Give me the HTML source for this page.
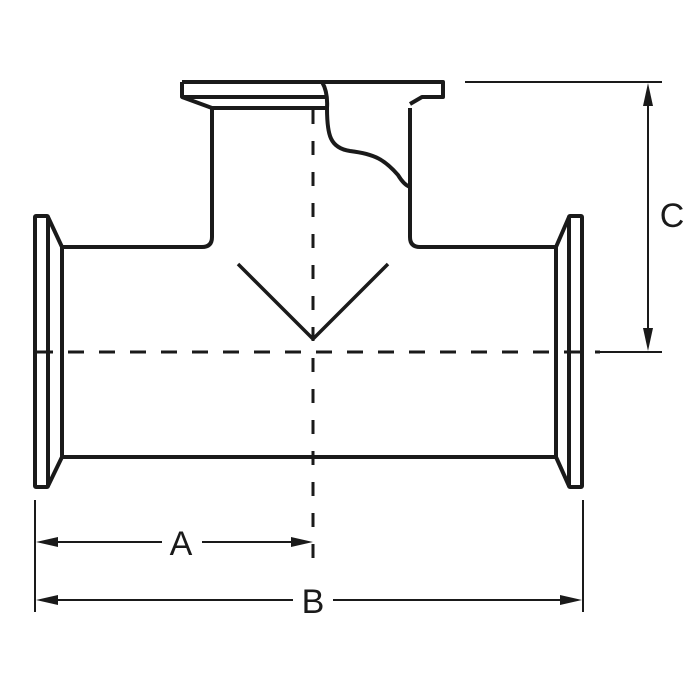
<!DOCTYPE html>
<html><head><style>body{margin:0;background:#fff}svg{display:block}</style></head><body>
<svg width="700" height="700" viewBox="0 0 700 700" xmlns="http://www.w3.org/2000/svg">
<g fill="none" stroke="#1a1a1a" stroke-width="4" stroke-linejoin="round">
<!-- main pipe -->
<path d="M62,247 L202,247 Q212,247 212,237 L212,108"/>
<path d="M410,108 L410,237 Q410,247 420,247 L556,247"/>
<line x1="62" y1="457" x2="556" y2="457"/>
<line x1="62" y1="247" x2="62" y2="457"/>
<line x1="556" y1="247" x2="556" y2="457"/>
<!-- left flange -->
<rect x="35" y="216" width="13" height="271" rx="1"/>
<path d="M48,217 L62,247 M48,486 L62,457"/>
<!-- right flange -->
<rect x="569" y="216" width="13" height="271" rx="1"/>
<path d="M569,217 L556,247 M569,486 L556,457"/>
<!-- top flange -->
<path d="M182,82 L443,82 L443,97 L422,97 L410,104"/>
<path d="M182,82 L182,97 L212,108 L327,108"/>
<line x1="182" y1="97" x2="327" y2="97"/>
<path d="M322,82 Q328,92 327,108 C327,135 330,148 350,151 C375,154 385,160 398,175 Q404,185 410,187"/>
<!-- V -->
<path d="M238,264 L313,339 L388,264" stroke-width="3.5"/>
</g>
<g stroke="#1a1a1a" stroke-width="3" fill="none">
<line x1="313" y1="110" x2="313" y2="565" stroke-dasharray="14,17"/>
<line x1="37" y1="352" x2="600" y2="352" stroke-dasharray="16,15"/>
</g>
<g stroke="#1a1a1a" stroke-width="2" fill="none">
<line x1="35" y1="500" x2="35" y2="612"/>
<line x1="583" y1="500" x2="583" y2="612"/>
<line x1="55" y1="542" x2="162" y2="542"/>
<line x1="202" y1="542" x2="295" y2="542"/>
<line x1="55" y1="600" x2="293" y2="600"/>
<line x1="333" y1="600" x2="563" y2="600"/>
<line x1="465" y1="82" x2="662" y2="82"/>
<line x1="600" y1="352" x2="662" y2="352"/>
<line x1="648" y1="102" x2="648" y2="332"/>
</g>
<g fill="#1a1a1a">
<polygon points="36,542 58,537 58,547"/>
<polygon points="313,542 291,537 291,547"/>
<polygon points="36,600 58,595 58,605"/>
<polygon points="582,600 560,595 560,605"/>
<polygon points="648,83 643,106 653,106"/>
<polygon points="648,351 643,328 653,328"/>
</g>
<g font-family="'Liberation Sans', sans-serif" font-size="34" fill="#1a1a1a" text-anchor="middle">
<text x="181" y="555">A</text>
<text x="313" y="613">B</text>
<text x="672" y="227">C</text>
</g>
</svg>
</body></html>
